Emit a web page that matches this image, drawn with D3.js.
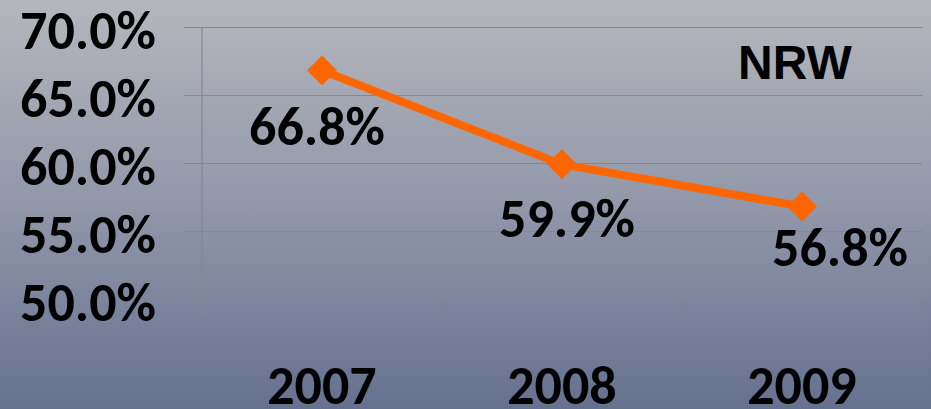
<!DOCTYPE html>
<html>
<head>
<meta charset="utf-8">
<script src="https://cdn.jsdelivr.net/npm/d3@7"></script>
<style>
  html, body { margin: 0; padding: 0; }
  body { width: 931px; height: 409px; overflow: hidden; }
  .lbl { font-family: Carlito, Calibri, "Open Sans", sans-serif; font-weight: bold; fill: #000; }
</style>
</head>
<body>
<div id="chart"></div>
<script>
const WIDTH = 931;
const HEIGHT = 409;
const MARGINS = { TOP: 27, LEFT: 202, BOTTOM: 110, RIGHT: 9 };
const FONT = 54;

// data
const years = ['2007', '2008', '2009'];
const nrw = [66.8, 59.9, 56.8];
const yTicks = [50, 55, 60, 65, 70];
const seriesName = 'NRW';

// label nudges (Excel labels were moved by hand)
const LABEL_DX = [-5, 5, 38];
const LABEL_DY = [74, 73, 59];

let svg = d3
    .select('#chart')
    .append('svg')
    .attr('width', WIDTH)
    .attr('height', HEIGHT);

// background gradient
let grad = svg.append('defs')
    .append('linearGradient')
    .attr('id', 'bg')
    .attr('x1', 0).attr('y1', 0).attr('x2', 0).attr('y2', 1);
grad.append('stop').attr('offset', '0%').attr('stop-color', '#b4b7bc');
grad.append('stop').attr('offset', '50%').attr('stop-color', '#9297a9');
grad.append('stop').attr('offset', '100%').attr('stop-color', '#65718f');

svg.append('rect')
    .attr('width', WIDTH)
    .attr('height', HEIGHT)
    .attr('fill', 'url(#bg)');

let xScale = d3.scaleBand()
    .domain(years)
    .range([MARGINS.LEFT, WIDTH - MARGINS.RIGHT])
    .padding(0);

let yScale = d3.scaleLinear()
    .domain([50, 70])
    .range([HEIGHT - MARGINS.BOTTOM, MARGINS.TOP]);

// gridlines + y labels
let yAxis = d3.axisLeft(yScale)
    .tickValues(yTicks)
    .tickSize(-(WIDTH - MARGINS.RIGHT - MARGINS.LEFT))
    .tickFormat(d => d.toFixed(1) + '%');

let gy = svg.append('g')
    .attr('id', 'y-axis')
    .attr('transform', `translate(${MARGINS.LEFT}, 0)`)
    .call(yAxis);

gy.select('.domain').remove();
gy.selectAll('.tick line')
    .attr('x1', -18)
    .attr('stroke', '#858892')
    .attr('stroke-width', 1.2);
gy.selectAll('.tick text')
    .attr('class', 'lbl')
    .attr('x', -46)
    .attr('dy', 21)
    .attr('font-size', FONT)
    .attr('text-anchor', 'end');

// vertical axis line
svg.append('line')
    .attr('x1', MARGINS.LEFT).attr('x2', MARGINS.LEFT)
    .attr('y1', yScale(70)).attr('y2', yScale(50) + 18)
    .attr('stroke', '#858892')
    .attr('stroke-width', 1.2);

// x axis (category boundaries)
let xBounds = years.map(d => xScale(d)).concat([xScale(years[years.length - 1]) + xScale.bandwidth()]);
svg.append('g')
    .selectAll('line')
    .data(xBounds.slice(1))
    .enter()
    .append('line')
    .attr('x1', d => d).attr('x2', d => d)
    .attr('y1', yScale(50)).attr('y2', yScale(50) + 18)
    .attr('stroke', '#7e8394')
    .attr('stroke-width', 1.2);

svg.append('g')
    .selectAll('text')
    .data(years)
    .enter()
    .append('text')
    .attr('class', 'lbl')
    .attr('x', d => xScale(d) + xScale.bandwidth() / 2)
    .attr('y', 404)
    .attr('font-size', FONT)
    .attr('text-anchor', 'middle')
    .text(d => d);

// line
let cx = (d, i) => xScale(years[i]) + xScale.bandwidth() / 2;
let line = d3.line()
    .x(cx)
    .y(d => yScale(d));

svg.append('path')
    .datum(nrw)
    .attr('d', line)
    .attr('fill', 'none')
    .attr('stroke', '#ff6600')
    .attr('stroke-width', 8)
    .attr('stroke-linejoin', 'round');

svg.append('g')
    .selectAll('path')
    .data(nrw)
    .enter()
    .append('path')
    .attr('d', d3.symbol().type(d3.symbolSquare).size(450)())
    .attr('transform', (d, i) => `translate(${cx(d, i)}, ${yScale(d)}) rotate(45)`)
    .attr('fill', '#ff6600');

// data labels
svg.append('g')
    .selectAll('text')
    .data(nrw)
    .enter()
    .append('text')
    .attr('class', 'lbl')
    .attr('x', (d, i) => cx(d, i) + LABEL_DX[i])
    .attr('y', (d, i) => yScale(d) + LABEL_DY[i])
    .attr('font-size', FONT)
    .attr('text-anchor', 'middle')
    .text(d => d.toFixed(1) + '%');

// series name
svg.append('text')
    .attr('x', 795)
    .attr('y', 79)
    .attr('font-family', '"Liberation Sans", Arial, sans-serif')
    .attr('font-weight', 'bold')
    .attr('font-size', 48)
    .attr('text-anchor', 'middle')
    .attr('fill', '#000')
    .text(seriesName);
</script>
</body>
</html>
